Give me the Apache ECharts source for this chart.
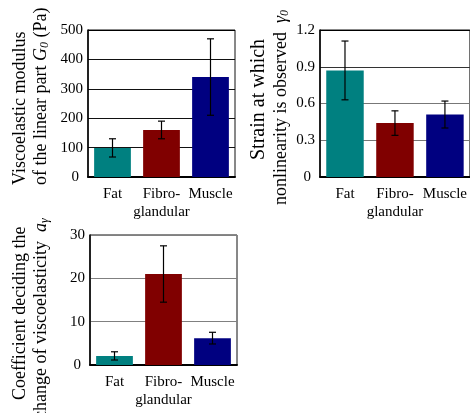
<!DOCTYPE html>
<html>
<head>
<meta charset="utf-8">
<script src="https://cdn.jsdelivr.net/npm/echarts@6/dist/echarts.min.js"></script>
<style>html,body{margin:0;padding:0;background:#fff}#c{width:470px;height:413px}</style>
</head>
<body>
<div id="c"></div>
<script>
const categories = ['Fat', 'Fibro-\nglandular', 'Muscle'];
const barColors = ['#008080', '#800000', '#000080'];
const g0Mean = [99, 160, 340];
const g0Err = [31, 30, 130];
const g0Ticks = {min: 0, max: 500, interval: 100};
const gammaMean = [0.87, 0.44, 0.51];
const gammaErr = [0.24, 0.10, 0.11];
const gammaTicks = {min: 0, max: 1.2, interval: 0.3};
const aMean = [2.1, 21, 6.2];
const aErr = [0.95, 6.5, 1.35];
const aTicks = {min: 0, max: 30, interval: 10};

const FONT = "'Liberation Serif', 'Times New Roman', 'DejaVu Serif', serif";
const chart = echarts.init(document.getElementById('c'), null, {renderer: 'canvas'});

const grids = [
  {left: 88, top: 30, width: 147, height: 147},
  {left: 320, top: 30, width: 150, height: 147},
  {left: 90, top: 235, width: 147, height: 130}
];
const ticks = [g0Ticks, gammaTicks, aTicks];
const means = [g0Mean, gammaMean, aMean];
const errs = [g0Err, gammaErr, aErr];
const splitColors = [
  ['#000', '#111', '#111', '#111', '#111', '#000'],
  ['#000', '#777', '#777', '#333', '#000'],
  ['#000', '#808080', '#808080', '#808080']
];
const fmt = [
  v => v === 0 ? '{z|0}' : String(v),
  v => v === 0 ? '{z|0}' : v.toFixed(1),
  v => v === 0 ? '{z|0}' : String(v)
];

const option = {
  animation: false,
  grid: grids.map(g => Object.assign({show: true, borderColor: '#111', borderWidth: 1, backgroundColor: 'transparent'}, g)),
  xAxis: grids.map((g, i) => ({
    type: 'category', gridIndex: i, data: categories,
    axisLine: {show: true, lineStyle: {color: '#000', width: 2}},
    axisTick: {show: false},
    axisLabel: {color: '#000', fontFamily: FONT, fontSize: 15, lineHeight: 18, margin: 8, interval: 0}
  })),
  yAxis: grids.map((g, i) => ({
    type: 'value', gridIndex: i, min: ticks[i].min, max: ticks[i].max, interval: ticks[i].interval,
    axisLine: {show: true, lineStyle: {color: '#000', width: 1.5}},
    axisTick: {show: false},
    splitLine: {show: true, lineStyle: {color: splitColors[i], width: 1}},
    axisLabel: {color: '#000', fontFamily: FONT, fontSize: 15, margin: 5, formatter: fmt[i],
      rich: {z: {fontFamily: FONT, fontSize: 15, color: '#000', padding: [0, 4, 0, 0]}}}
  })),
  series: []
};

for (let i = 0; i < 3; i++) {
  option.series.push({
    type: 'bar', xAxisIndex: i, yAxisIndex: i, barWidth: '75%',
    data: means[i].map((v, k) => ({value: v, itemStyle: {color: barColors[k]}})),
    z: 2
  });
  option.series.push({
    type: 'custom', xAxisIndex: i, yAxisIndex: i, z: 5,
    data: means[i].map((v, k) => [k, v - errs[i][k], v + errs[i][k]]),
    renderItem: function (params, api) {
      const x = api.value(0);
      const lo = api.coord([x, api.value(1)]);
      const hi = api.coord([x, api.value(2)]);
      const hw = 3.5;
      const st = {stroke: '#000', lineWidth: 1.2};
      return {type: 'group', children: [
        {type: 'line', shape: {x1: hi[0], y1: hi[1], x2: lo[0], y2: lo[1]}, style: st},
        {type: 'line', shape: {x1: hi[0] - hw, y1: hi[1], x2: hi[0] + hw, y2: hi[1]}, style: st},
        {type: 'line', shape: {x1: lo[0] - hw, y1: lo[1], x2: lo[0] + hw, y2: lo[1]}, style: st}
      ]};
    }
  });
}

const R = Math.PI / 2;
function title(x, y, text, size) {
  const fs = size || 18;
  return {
    type: 'text', x: x, y: y, rotation: R, z: 10,
    style: {
      text: text, fill: '#000', fontFamily: FONT, fontSize: fs,
      align: 'left', verticalAlign: 'middle',
      rich: {
        n: {fontFamily: FONT, fontSize: fs, fill: '#000'},
        i: {fontFamily: FONT, fontSize: fs, fontStyle: 'italic', fill: '#000'},
        s: {fontFamily: FONT, fontSize: 12, fontStyle: 'italic', fill: '#000', verticalAlign: 'bottom', padding: [8, 0, 0, 0]}
      }
    }
  };
}

option.graphic = [
  title(20, 185, 'Viscoelastic modulus'),
  title(41, 185, '{n|of the linear part }{i|G}{s|0}{n| (Pa)}'),
  title(259, 160, 'Strain at which', 20),
  title(281, 205, '{n|nonlinearity is observed  }{i|γ}{s|0}'),
  title(20, 400, 'Coefficient deciding the'),
  title(41, 419, '{n|change of viscoelasticity  }{i|a}{s|γ}')
];

chart.setOption(option);
</script>
</body>
</html>
